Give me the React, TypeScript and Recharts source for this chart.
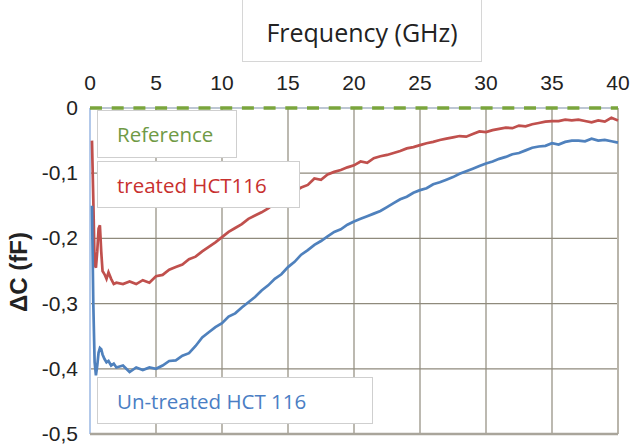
import React from "react";
import { LineChart, Line, XAxis, YAxis, CartesianGrid, ReferenceLine } from "recharts";

// frequency in GHz
const freq = [
  0.15, 0.25, 0.35, 0.45, 0.55, 0.65, 0.75, 0.85, 0.95, 1.1, 1.25, 1.4, 1.6, 1.8,
  2, 2.5, 3, 3.5, 4, 4.5, 5, 5.5, 6, 6.5, 7, 7.5, 8, 8.5, 9, 9.5, 10, 10.5, 11, 11.5,
  12, 12.5, 13, 13.5, 14, 14.5, 15, 15.5, 16, 16.5, 17, 17.5, 18, 18.5, 19, 19.5,
  20, 20.5, 21, 21.5, 22, 22.5, 23, 23.5, 24, 24.5, 25, 25.5, 26, 26.5, 27, 27.5,
  28, 28.5, 29, 29.5, 30, 30.5, 31, 31.5, 32, 32.5, 33, 33.5, 34, 34.5, 35, 35.5,
  36, 36.5, 37, 37.5, 38, 38.5, 39, 39.5, 40,
];

// treated HCT116, delta C in fF
const treated = [
  -0.05, -0.14, -0.24, -0.245, -0.22, -0.185, -0.18, -0.22, -0.25, -0.255, -0.262, -0.252, -0.262, -0.27,
  -0.268, -0.27, -0.266, -0.27, -0.264, -0.268, -0.258, -0.256, -0.248, -0.244, -0.24, -0.232, -0.228, -0.22, -0.213, -0.206,
  -0.198, -0.19, -0.184, -0.178, -0.17, -0.165, -0.16, -0.154, -0.146, -0.138, -0.13, -0.128, -0.122, -0.118, -0.108, -0.11,
  -0.102, -0.098, -0.095, -0.091, -0.088, -0.082, -0.084, -0.077, -0.074, -0.072, -0.069, -0.066, -0.062, -0.06, -0.057, -0.054,
  -0.052, -0.049, -0.047, -0.045, -0.043, -0.044, -0.04, -0.036, -0.037, -0.034, -0.032, -0.03, -0.031, -0.027, -0.028, -0.025,
  -0.023, -0.021, -0.02, -0.02, -0.018, -0.019, -0.018, -0.02, -0.022, -0.019, -0.021, -0.015, -0.019,
];

// un-treated HCT 116
const untreated = [
  -0.15, -0.3, -0.39, -0.41, -0.395, -0.375, -0.368, -0.37, -0.378, -0.385, -0.39, -0.388, -0.395, -0.392,
  -0.398, -0.395, -0.405, -0.398, -0.402, -0.398, -0.4, -0.395, -0.388, -0.387, -0.38, -0.376, -0.365, -0.352, -0.344, -0.336,
  -0.33, -0.32, -0.315, -0.306, -0.298, -0.29, -0.28, -0.272, -0.262, -0.255, -0.244, -0.236, -0.225, -0.218, -0.21, -0.204,
  -0.197, -0.19, -0.186, -0.179, -0.174, -0.17, -0.166, -0.162, -0.158, -0.152, -0.146, -0.14, -0.136, -0.13, -0.126, -0.123,
  -0.117, -0.114, -0.11, -0.106, -0.101, -0.097, -0.093, -0.089, -0.085, -0.082, -0.078, -0.075, -0.071, -0.069, -0.065, -0.061,
  -0.059, -0.058, -0.054, -0.056, -0.052, -0.05, -0.05, -0.051, -0.047, -0.05, -0.049, -0.051, -0.053,
];

const referenceLevel = 0;
const xTicks = [0, 5, 10, 15, 20, 25, 30, 35, 40];
const yTicks = [0, -0.1, -0.2, -0.3, -0.4, -0.5];

const data = freq.map((f, i) => ({ f, treated: treated[i], untreated: untreated[i] }));

const tickFont = "'Liberation Sans', Arial, sans-serif";
const labelFont = "'Open Sans', 'Noto Sans', sans-serif";

const XTick = (props: any) => {
  const { x, payload } = props;
  return (
    <text x={x} y={90} textAnchor="middle" fontSize={21} fill="#222" fontFamily={tickFont}>
      {payload.value}
    </text>
  );
};

const YTick = (props: any) => {
  const { y, payload } = props;
  const label = payload.value === 0 ? "0" : payload.value.toFixed(1).replace(".", ",");
  return (
    <text x={78} y={y + 7} textAnchor="end" fontSize={21} fill="#222" fontFamily={tickFont}>
      {label}
    </text>
  );
};

const boxStyle: React.CSSProperties = {
  position: "absolute",
  left: 97,
  background: "#fff",
  border: "1px solid #cfcfcf",
  boxSizing: "border-box",
  display: "flex",
  alignItems: "center",
  paddingLeft: 19,
  fontFamily: labelFont,
  fontSize: 20.5,
};

export default function App() {
  return (
    <div style={{ position: "absolute", left: 0, top: 0, width: 631, height: 445, background: "#fff", overflow: "hidden" }}>
      <LineChart width={631} height={445} data={data} margin={{ top: 78, right: 13, bottom: 11, left: 30 }}>
        <CartesianGrid stroke="#8f8a7c" strokeWidth={1.2} />
        <XAxis
          dataKey="f"
          type="number"
          domain={[0, 40]}
          ticks={xTicks}
          orientation="top"
          height={30}
          axisLine={false}
          tickLine={false}
          tick={<XTick />}
        />
        <YAxis
          type="number"
          domain={[-0.5, 0]}
          ticks={yTicks}
          width={60}
          axisLine={false}
          tickLine={false}
          tick={<YTick />}
        />
        <ReferenceLine x={0} stroke="#b3c9ea" strokeWidth={2} />
        <ReferenceLine x={40} stroke="#b9b5ab" strokeWidth={2} />
        <ReferenceLine y={-0.5} stroke="#a9a59b" strokeWidth={2.5} />
        <ReferenceLine y={referenceLevel} stroke="#b3c9ea" strokeWidth={1} />
        <ReferenceLine y={referenceLevel} stroke="#7aa53c" strokeWidth={3.5} strokeDasharray="12 9.7" />
        <Line
          dataKey="treated"
          stroke="#c0504d"
          strokeWidth={2.7}
          dot={false}
          type="linear"
          isAnimationActive={false}
        />
        <Line
          dataKey="untreated"
          stroke="#4f81bd"
          strokeWidth={2.7}
          dot={false}
          type="linear"
          isAnimationActive={false}
        />
        <text
          transform="translate(27, 272) rotate(-90)"
          textAnchor="middle"
          fontSize={24}
          fontWeight="bold"
          fill="#222"
          fontFamily={tickFont}
        >
          ΔC (fF)
        </text>
      </LineChart>

      <div
        style={{
          position: "absolute",
          left: 242,
          top: -2,
          width: 240,
          height: 64,
          background: "#fff",
          borderLeft: "1px solid #d6d6d6",
          borderRight: "1px solid #d6d6d6",
          borderBottom: "1px solid #d6d6d6",
          boxSizing: "border-box",
          display: "flex",
          alignItems: "center",
          justifyContent: "center",
          paddingTop: 4,
          fontFamily: labelFont,
          fontSize: 25,
          color: "#222",
        }}
      >
        Frequency (GHz)
      </div>

      <div style={{ ...boxStyle, top: 110, width: 140, height: 48, color: "#6f9a45" }}>Reference</div>
      <div style={{ ...boxStyle, top: 161, width: 203, height: 47, color: "#c8302e" }}>treated HCT116</div>
      <div style={{ ...boxStyle, top: 377, width: 276, height: 47, color: "#4a7ec4" }}>Un-treated HCT 116</div>
    </div>
  );
}
